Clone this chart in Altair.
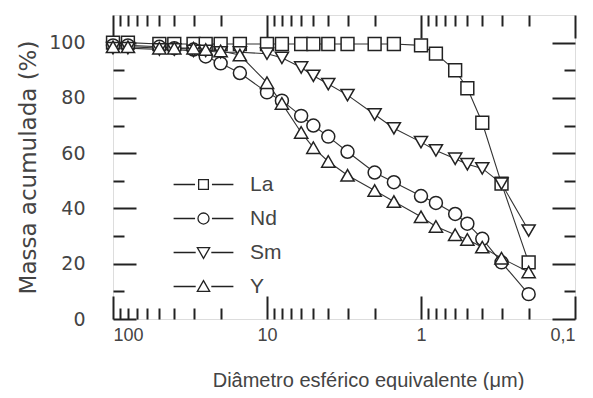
import altair as alt
import pandas as pd

# ---- data ----
diam = [100, 80, 50, 40, 30, 25, 20, 15, 10, 8, 6, 5, 4, 3, 2, 1.5, 1, 0.8, 0.6, 0.5, 0.4, 0.3, 0.2]
series_names = ["La", "Nd", "Sm", "Y"]
la = [100, 100, 99.5, 99.5, 99.5, 99.5, 99.5, 99.5, 99.5, 99.5, 99.5, 99.5, 99.5, 99.5, 99.5, 99.5, 99, 96, 90, 83.5, 71, 49, 20.5]
nd = [99, 99, 98.5, 98, 97.5, 95, 92.5, 89, 82, 79, 73.5, 70, 66, 60.5, 53, 49.5, 44.5, 42, 38, 34.5, 29, 20.5, 9]
sm = [98, 98, 97.5, 97.5, 97, 97, 96.5, 96.5, 96, 94.5, 91, 88, 85, 81, 74, 69, 64, 61, 58, 56, 54.5, 49, 32]
yv = [98.5, 98.5, 98, 98, 98, 97.5, 97, 95.5, 85.5, 78, 67.5, 62, 57, 52, 46.5, 42.5, 37, 33.5, 30.5, 28.8, 26, 22, 17]

major_x = [100, 10, 1, 0.1]
minor_x = [90, 80, 70, 60, 50, 40, 30, 20, 9, 8, 7, 6, 5, 4, 3, 2, 0.9, 0.8, 0.7, 0.6, 0.5, 0.4, 0.3, 0.2]
major_y = [0, 20, 40, 60, 80, 100]
minor_y = [10, 30, 50, 70, 90]

rows = []
for name, vals in zip(series_names, [la, nd, sm, yv]):
    for i, (d, v) in enumerate(zip(diam, vals)):
        rows.append({"serie": name, "d": d, "m": v, "ordem": i})
df = pd.DataFrame(rows)

FONT = "Liberation Sans"
WIDE = "DejaVu Sans"
INK = "#222222"
TXT = "#444444"
MAJ = 23
MIN = 11

xscale = alt.Scale(type="log", domain=[0.1, 100], reverse=True, nice=False)
yscale = alt.Scale(domain=[0, 110], nice=False, zero=False)


def tick_axis(orient, values, size):
    return alt.Axis(orient=orient, values=values, tickSize=size, offset=-size,
                    domain=False, grid=False, labels=False, title=None,
                    tickColor=INK, tickWidth=2)


x_main = alt.Axis(orient="bottom", values=major_x, tickSize=MAJ, offset=-MAJ,
                  domain=False, grid=False, tickColor=INK, tickWidth=2,
                  labelExpr="replace(format(datum.value, '~g'), '.', ',')",
                  labelFont=FONT, labelFontSize=18, labelColor=TXT, labelPadding=7,
                  labelFlush=True,
                  title="Diâmetro esférico equivalente (μm)", titleFont=FONT,
                  titleFontSize=20, titleFontWeight="normal", titleColor=TXT,
                  titlePadding=26, titleX=255)
y_main = alt.Axis(orient="left", values=major_y, tickSize=MAJ, offset=-MAJ,
                  domain=False, grid=False, tickColor=INK, tickWidth=2,
                  labelFont=WIDE, labelFontSize=19, labelColor=TXT, labelPadding=28,
                  title="Massa acumulada (%)", titleFont=WIDE, titleFontSize=23,
                  titleFontWeight="normal", titleColor=TXT, titlePadding=8)

base = alt.Chart(df)

lines = base.mark_line(color="#333333", strokeWidth=1.1).encode(
    x=alt.X("d:Q", scale=xscale, axis=x_main),
    y=alt.Y("m:Q", scale=yscale, axis=y_main),
    detail="serie:N",
    order="ordem:Q",
)

shape_scale = alt.Scale(domain=series_names,
                        range=["square", "circle", "triangle-down", "triangle-up"])
size_scale = alt.Scale(domain=series_names, range=[165, 175, 240, 240])

points = base.mark_point(filled=True, fill="white", stroke=INK, strokeWidth=1.5,
                         opacity=1).encode(
    x=alt.X("d:Q", scale=xscale, axis=tick_axis("bottom", minor_x, MIN)),
    y=alt.Y("m:Q", scale=yscale, axis=tick_axis("left", minor_y, MIN)),
    shape=alt.Shape("serie:N", scale=shape_scale, legend=None),
    size=alt.Size("serie:N", scale=size_scale, legend=None),
)

top_major = base.mark_point(opacity=0).encode(
    x=alt.X("d:Q", scale=xscale, axis=tick_axis("top", major_x, MAJ)),
    y=alt.Y("m:Q", scale=yscale, axis=tick_axis("right", major_y, MAJ)),
)
top_minor = base.mark_point(opacity=0).encode(
    x=alt.X("d:Q", scale=xscale, axis=tick_axis("top", minor_x, MIN)),
    y=alt.Y("m:Q", scale=yscale, axis=tick_axis("right", minor_y, MIN)),
)

leg_paths = [
    "M-4.6,0H-1.3M1.3,0H4.6M-0.75,-0.75H0.75V0.75H-0.75Z",
    "M-4.6,0H-1.3M1.3,0H4.6M-0.85,0A0.85,0.85 0 1,0 0.85,0A0.85,0.85 0 1,0 -0.85,0Z",
    "M-4.6,0H-1.2M1.2,0H4.6M-0.95,-0.75L0.95,-0.75L0,0.9Z",
    "M-4.6,0H-1.2M1.2,0H4.6M0,-0.9L0.95,0.75L-0.95,0.75Z",
]

legend_layer = base.transform_filter("datum.ordem < 0").mark_point(
    filled=False, color=INK, strokeWidth=1.3, opacity=1
).encode(
    x=alt.X("d:Q", scale=xscale, axis=None),
    y=alt.Y("m:Q", scale=yscale, axis=None),
    shape=alt.Shape("serie:N",
                    scale=alt.Scale(domain=series_names, range=leg_paths),
                    legend=alt.Legend(orient="none", legendX=80, legendY=159,
                                      title=None, padding=0,
                                      labelFont=FONT, labelFontSize=21,
                                      labelColor=TXT, labelOffset=36,
                                      rowPadding=12, symbolSize=169,
                                      symbolStrokeWidth=1.3,
                                      symbolStrokeColor=INK,
                                      symbolOpacity=1)),
)

chart = alt.layer(lines, points, top_major, top_minor, legend_layer).resolve_scale(
    shape="independent", size="independent"
).resolve_axis(
    x="independent", y="independent"
).properties(
    width=462, height=304,
    autosize=alt.AutoSizeParams(type="none"),
    padding={"left": 105, "top": 7, "right": 10, "bottom": 71},
).configure_view(stroke=INK, strokeWidth=3).configure(background="white")

chart.save("out.html", embed_options={"renderer": "svg", "actions": False})
